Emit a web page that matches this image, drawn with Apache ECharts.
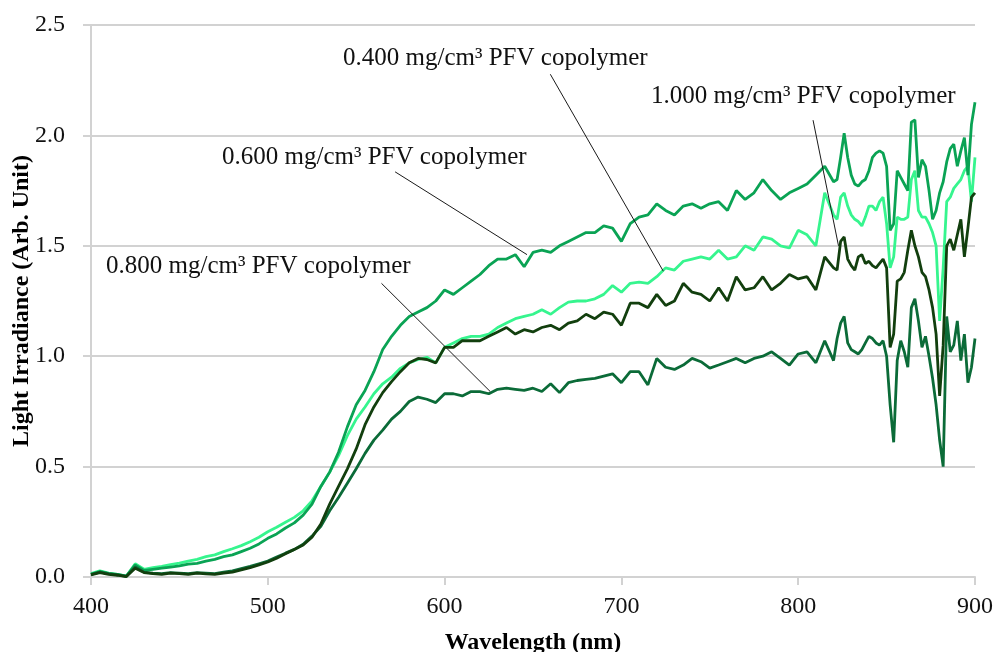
<!DOCTYPE html>
<html>
<head>
<meta charset="utf-8">
<script src="https://cdn.jsdelivr.net/npm/echarts@6/dist/echarts.min.js"></script>
<style>
  html, body { margin: 0; padding: 0; background: #fff; }
  #chart { width: 997px; height: 652px; }
</style>
</head>
<body>
<div id="chart"></div>
<script>
// Wavelength grid (nm): 5 nm steps up to 820, 2 nm steps through the noisy red end
const wavelengths = [
  400,405,410,415,420,425,430,435,440,445,450,455,460,465,470,475,480,485,490,495,
  500,505,510,515,520,525,530,535,540,545,550,555,560,565,570,575,580,585,590,595,
  600,605,610,615,620,625,630,635,640,645,650,655,660,665,670,675,680,685,690,695,
  700,705,710,715,720,725,730,735,740,745,750,755,760,765,770,775,780,785,790,795,
  800,805,810,815,820,
  822,824,826,828,830,832,834,836,838,840,
  842,844,846,848,850,852,854,856,858,860,
  862,864,866,868,870,872,874,876,878,880,
  882,884,886,888,890,892,894,896,898,900
];

// Light irradiance (arb. unit) for each PFV copolymer concentration
const irr0400 = [
  0.015,0.028,0.018,0.012,0.004,0.060,0.035,0.042,0.048,0.056,0.063,0.072,0.080,0.092,0.100,0.115,0.128,0.142,0.160,0.180,
  0.205,0.225,0.248,0.270,0.300,0.345,0.410,0.475,0.550,0.640,0.715,0.770,0.830,0.875,0.905,0.945,0.970,0.985,0.995,0.970,
  1.040,1.060,1.080,1.090,1.090,1.100,1.130,1.150,1.170,1.180,1.190,1.210,1.190,1.220,1.245,1.250,1.250,1.260,1.280,1.320,
  1.290,1.330,1.335,1.330,1.360,1.400,1.390,1.430,1.440,1.450,1.440,1.480,1.440,1.450,1.500,1.480,1.540,1.530,1.500,1.490,
  1.570,1.550,1.500,1.740,1.640,
  1.620,1.720,1.740,1.680,1.640,1.620,1.610,1.590,1.630,1.680,
  1.680,1.660,1.700,1.720,1.600,1.400,1.450,1.630,1.620,1.620,
  1.630,1.800,1.840,1.660,1.630,1.630,1.600,1.560,1.500,1.160,
  1.400,1.700,1.720,1.760,1.780,1.800,1.840,1.860,1.700,1.900
];
const irr0600 = [
  0.012,0.025,0.015,0.012,0.004,0.055,0.030,0.035,0.040,0.045,0.050,0.058,0.062,0.072,0.080,0.092,0.100,0.115,0.130,0.150,
  0.175,0.195,0.222,0.245,0.280,0.330,0.410,0.475,0.565,0.680,0.780,0.845,0.930,1.030,1.090,1.140,1.180,1.200,1.220,1.250,
  1.300,1.280,1.310,1.340,1.370,1.410,1.440,1.440,1.460,1.405,1.470,1.480,1.470,1.500,1.520,1.540,1.560,1.560,1.590,1.580,
  1.520,1.600,1.630,1.640,1.690,1.660,1.640,1.680,1.690,1.670,1.690,1.700,1.660,1.750,1.710,1.740,1.800,1.750,1.710,1.740,
  1.760,1.780,1.820,1.860,1.790,
  1.800,1.900,2.010,1.900,1.820,1.780,1.770,1.790,1.800,1.840,
  1.900,1.920,1.930,1.920,1.860,1.570,1.600,1.840,1.810,1.780,
  1.750,2.060,2.070,1.810,1.890,1.860,1.750,1.620,1.660,1.740,
  1.790,1.880,1.940,1.960,1.860,1.930,1.990,1.820,2.050,2.150
];
const irr0800 = [
  0.012,0.022,0.015,0.010,0.003,0.045,0.022,0.018,0.015,0.020,0.018,0.015,0.020,0.018,0.015,0.022,0.028,0.038,0.048,0.060,
  0.072,0.090,0.108,0.125,0.148,0.185,0.230,0.300,0.360,0.425,0.490,0.560,0.620,0.665,0.715,0.750,0.795,0.815,0.805,0.790,
  0.830,0.830,0.820,0.840,0.840,0.830,0.850,0.855,0.850,0.845,0.855,0.840,0.875,0.835,0.880,0.890,0.895,0.900,0.910,0.920,
  0.880,0.930,0.930,0.870,0.990,0.950,0.940,0.960,0.990,0.975,0.946,0.960,0.975,0.990,0.970,0.990,1.000,1.020,0.990,0.960,
  1.010,1.020,0.970,1.070,0.980,
  1.080,1.150,1.180,1.060,1.030,1.020,1.010,1.030,1.060,1.090,
  1.080,1.060,1.050,1.070,1.000,0.780,0.610,0.980,1.070,1.020,
  0.950,1.220,1.260,1.160,1.040,1.090,1.000,0.900,0.780,0.620,
  0.500,1.180,1.020,1.050,1.160,0.980,1.100,0.880,0.950,1.080
];
const irr1000 = [
  0.010,0.020,0.012,0.008,0.002,0.040,0.020,0.015,0.012,0.018,0.015,0.012,0.018,0.014,0.012,0.018,0.022,0.032,0.042,0.055,
  0.068,0.085,0.105,0.125,0.145,0.180,0.240,0.330,0.410,0.490,0.580,0.690,0.770,0.835,0.885,0.930,0.970,0.990,0.985,0.970,
  1.040,1.040,1.070,1.070,1.070,1.090,1.110,1.130,1.100,1.120,1.110,1.130,1.140,1.120,1.150,1.160,1.190,1.170,1.200,1.190,
  1.140,1.240,1.240,1.220,1.280,1.230,1.250,1.330,1.290,1.280,1.250,1.310,1.250,1.360,1.300,1.310,1.360,1.300,1.330,1.370,
  1.350,1.360,1.300,1.450,1.400,
  1.390,1.520,1.540,1.440,1.410,1.390,1.450,1.460,1.420,1.430,
  1.410,1.400,1.420,1.440,1.400,1.040,1.100,1.340,1.350,1.380,
  1.480,1.570,1.500,1.450,1.380,1.360,1.300,1.220,1.100,0.820,
  1.050,1.500,1.530,1.480,1.550,1.620,1.450,1.580,1.720,1.740
];

// Series names, colours and annotation text
const seriesNames = ['0.400 mg/cm³ PFV copolymer', '0.600 mg/cm³ PFV copolymer',
                     '0.800 mg/cm³ PFV copolymer', '1.000 mg/cm³ PFV copolymer'];
const seriesColors = ['#36F58E', '#0AA354', '#0B6B38', '#123F0E'];
const seriesValues = [irr0400, irr0600, irr0800, irr1000];

// Leader lines: [label-side point, point on curve] in data coordinates
const leaders = [
  [[659.8, 2.277], [723.7, 1.385]],
  [[572.0, 1.835], [646.6, 1.460]],
  [[564.3, 1.330], [625.8, 0.840]],
  [[808.4, 2.069], [822.8, 1.500]]
];
// Label anchor (left, vertical middle) in pixels
const labelPos = [[343, 58], [222, 157], [106, 266], [651, 96]];

const FONT = "'Liberation Serif', 'Times New Roman', serif";
const GRID_COLOR = '#d2d2d2';

const chart = echarts.init(document.getElementById('chart'), null, { renderer: 'canvas' });

const series = seriesValues.map((vals, i) => ({
  name: seriesNames[i],
  type: 'line',
  data: wavelengths.map((w, k) => [w, vals[k]]),
  showSymbol: false,
  symbol: 'none',
  lineStyle: { color: seriesColors[i], width: 2.8 },
  itemStyle: { color: seriesColors[i] },
  z: 2 + i,
  markLine: {
    silent: true,
    symbol: ['none', 'none'],
    animation: false,
    label: { show: false },
    lineStyle: { color: '#1a1a1a', width: 1, type: 'solid' },
    data: [[{ coord: leaders[i][0] }, { coord: leaders[i][1] }]]
  }
}));

chart.setOption({
  animation: false,
  backgroundColor: '#ffffff',
  grid: { left: 91, right: 22, top: 25, bottom: 75, containLabel: false, outerBoundsMode: 'none' },
  xAxis: {
    type: 'value', min: 400, max: 900, interval: 100,
    name: 'Wavelength (nm)', nameLocation: 'middle', nameGap: 54, nameMoveOverlap: false,
    nameTextStyle: { fontFamily: FONT, fontWeight: 'bold', fontSize: 24, color: '#000' },
    axisLine: { show: true, lineStyle: { color: GRID_COLOR, width: 2 } },
    axisTick: { show: true, length: 8, lineStyle: { color: GRID_COLOR, width: 2 } },
    axisLabel: { fontFamily: FONT, fontSize: 24, color: '#111', margin: 18 },
    splitLine: { show: false }
  },
  yAxis: {
    type: 'value', min: 0, max: 2.5, interval: 0.5,
    name: 'Light Irradiance (Arb. Unit)', nameLocation: 'middle', nameGap: 57, nameRotate: 90,
    nameMoveOverlap: false,
    nameTextStyle: { fontFamily: FONT, fontWeight: 'bold', fontSize: 24, color: '#000' },
    axisLine: { show: true, lineStyle: { color: GRID_COLOR, width: 2 } },
    axisTick: { show: true, length: 8, lineStyle: { color: GRID_COLOR, width: 2 } },
    axisLabel: { fontFamily: FONT, fontSize: 24, color: '#111', margin: 26,
                 formatter: v => v.toFixed(1) },
    splitLine: { show: true, lineStyle: { color: GRID_COLOR, width: 2 } }
  },
  series: series,
  graphic: seriesNames.map((t, i) => ({
    type: 'text',
    x: labelPos[i][0],
    y: labelPos[i][1],
    silent: true,
    z: 10,
    style: {
      text: t,
      fill: '#111',
      font: '25px ' + FONT,
      verticalAlign: 'middle',
      textVerticalAlign: 'middle'
    }
  }))
});
</script>
</body>
</html>
